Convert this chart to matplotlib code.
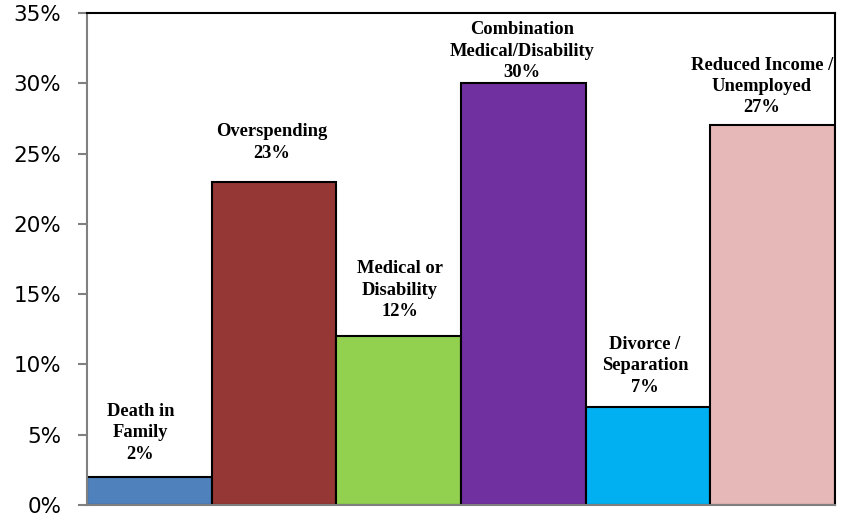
import numpy as np
import matplotlib.pyplot as plt
from matplotlib.ticker import PercentFormatter

categories = ['Death in\nFamily', 'Overspending', 'Medical or\nDisability',
              'Combination\nMedical/Disability', 'Divorce /\nSeparation',
              'Reduced Income /\nUnemployed']
values = [2, 23, 12, 30, 7, 27]
colors = ['#4F81BD', '#953735', '#92D050', '#7030A0', '#00B0F0', '#E6B9B8']
# labels were placed by hand: offset from bar top centre, in pixels
label_dx = [-9, -2, 1, -1, -3, -11]
label_gap = [18, 24, 20, 6, 15, 13]

fig = plt.figure(figsize=(8.43, 5.21), dpi=100)
ax = fig.add_axes([87 / 843, 1 - 505 / 521, (835 - 87) / 843, (505 - 13) / 521])

x = np.arange(len(values))
ax.bar(x, values, width=1.0, color=colors, edgecolor='black', linewidth=1.5, zorder=2)

for xi, v, lab, dx, g in zip(x, values, categories, label_dx, label_gap):
    ax.annotate(lab + '\n' + str(v) + '%', (xi, v), xytext=(dx * 0.72, (g - 4) * 0.72),
                textcoords='offset points', ha='center', va='bottom',
                fontsize=13.3, fontweight='bold', family='Liberation Serif',
                linespacing=1.34)

ax.set_xlim(-0.5, 5.5)
ax.set_ylim(0, 35)
ax.set_yticks(np.arange(0, 36, 5))
ax.yaxis.set_major_formatter(PercentFormatter(decimals=0))
ax.set_xticks([])
ax.tick_params(axis='y', labelsize=15.5, length=6.5, width=1.5, color='#808080', pad=12)

ax.spines['left'].set_color('#808080')
ax.spines['left'].set_linewidth(1.5)
ax.spines['bottom'].set_color('#808080')
ax.spines['bottom'].set_linewidth(1.5)
ax.spines['top'].set_linewidth(1.5)
ax.spines['right'].set_linewidth(1.5)

plt.savefig('out.png', dpi=100)
